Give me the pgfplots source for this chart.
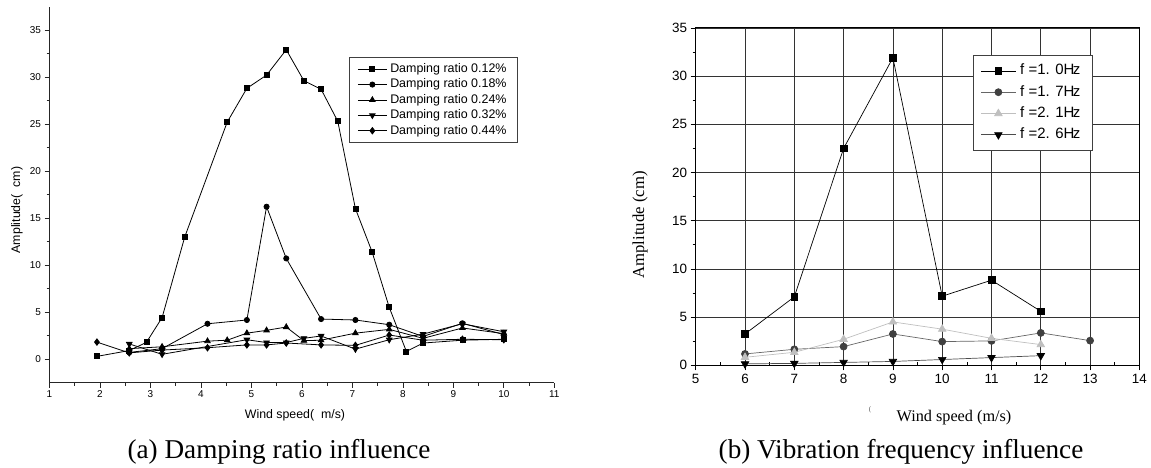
\documentclass[border=0pt]{standalone}
\usepackage{fontspec}
\setmainfont{Liberation Serif}
\newfontfamily\arial{Liberation Sans}
\usepackage{pgfplots}
\pgfplotsset{compat=1.18}
\begin{document}
\begin{tikzpicture}
\path[use as bounding box] (0bp,0bp) rectangle (1151bp,-468bp);
% ---------------- (a) ----------------
\begin{axis}[
  at={(49.5bp,-382.5bp)}, anchor=south west, scale only axis,
  width=504.8bp, height=376bp,
  xmin=1, xmax=11, ymin=-2.5, ymax=37.5,
  axis lines=left, axis line style={-, line width=0.8bp, black!85},
  xtick={1,...,11}, ytick={0,5,...,35},
  minor x tick num=1, minor y tick num=1,
  tick align=outside, major tick length=5bp, minor tick length=3bp,
  tick style={black!85, line width=0.7bp},
  /pgf/number format/assume math mode=true,
  tick label style={font=\arial\fontsize{10}{12}\selectfont},
  every axis plot/.append style={black, line width=0.8bp},
  legend style={at={(0.5933,0.8665)}, anchor=north west, draw=black!75, line width=0.9bp,
    font=\arial\fontsize{12.5}{15}\selectfont, row sep=0pt,
    inner xsep=8bp, inner ysep=4.3bp, cells={anchor=west},
    nodes={inner xsep=3bp, inner ysep=1.8bp, text height=9.2bp, text depth=2.6bp}},
  legend image code/.code={\draw[line width=0.8bp, mark repeat=2,mark phase=2] plot coordinates {(0bp,0bp)(14.5bp,0bp)(29bp,0bp)};},
]
\addplot[mark=square*, mark size=2.5bp] coordinates {
(1.94,0.28) (2.58,0.9) (2.92,1.77) (3.23,4.4) (3.68,13.0) (4.52,25.2) (4.91,28.8) (5.30,30.2) (5.69,32.9) (6.04,29.6) (6.38,28.7) (6.71,25.3) (7.06,16.0) (7.39,11.4) (7.73,5.5) (8.07,0.8) (8.40,1.7) (9.18,2.0) (10.0,2.1)};
\addlegendentry{Damping ratio 0.12\%}
\addplot[mark=*, mark size=2.6bp] coordinates {
(2.58,0.7) (3.23,1.1) (4.13,3.75) (4.91,4.15) (5.30,16.2) (5.69,10.7) (6.38,4.25) (7.06,4.15) (7.73,3.65) (8.40,2.4) (9.18,3.8) (10.0,2.6)};
\addlegendentry{Damping ratio 0.18\%}
\addplot[mark=triangle*, mark size=3.2bp] coordinates {
(2.58,1.1) (3.23,1.3) (4.13,1.9) (4.52,2.0) (4.91,2.75) (5.30,3.05) (5.69,3.4) (6.04,1.95) (6.38,2.0) (7.06,2.75) (7.73,3.15) (8.40,2.2) (9.18,3.3) (10.0,2.7)};
\addlegendentry{Damping ratio 0.24\%}
\addplot[mark=triangle*, mark size=3.2bp, mark options={rotate=180}] coordinates {
(2.58,1.6) (3.23,0.5) (4.91,2.05) (5.30,1.75) (5.69,1.75) (6.04,2.2) (6.38,2.45) (7.06,1.05) (7.73,2.05) (8.40,2.65) (9.18,3.75) (10.0,2.9)};
\addlegendentry{Damping ratio 0.32\%}
\addplot[mark=diamond*, mark size=3.2bp] coordinates {
(1.94,1.8) (2.58,0.65) (3.23,0.95) (4.13,1.2) (4.91,1.5) (5.30,1.5) (5.69,1.7) (6.38,1.5) (7.06,1.45) (7.73,2.55) (8.40,2.0) (9.18,2.1) (10.0,2.05)};
\addlegendentry{Damping ratio 0.44\%}
\end{axis}
% ---------------- (b) ----------------
\begin{axis}[
  at={(695.7bp,-365.3bp)}, anchor=south west, scale only axis,
  width=443.7bp, height=337.4bp,
  xmin=5, xmax=14, ymin=0, ymax=35,
  xtick={5,...,14}, ytick={0,5,...,35},
  minor y tick num=1,
  extra x ticks={5.5,6.5,...,13.5}, extra x tick labels={},
  extra x tick style={grid=none, tick align=inside, major tick length=3.5bp},
  tick pos=left, tick align=outside, major tick length=5bp, minor tick length=3bp,
  tick style={black, line width=0.7bp},
  grid=major, major grid style={black!80, line width=0.7bp},
  axis line style={line width=1bp},
  /pgf/number format/assume math mode=true,
  tick label style={font=\arial\fontsize{13.5}{15}\selectfont},
  every axis plot/.append style={line width=0.7bp},
  legend style={at={(0.6245,0.9188)}, anchor=north west, draw=black!75, line width=0.9bp,
    font=\arial\fontsize{15}{17}\selectfont, row sep=0pt,
    inner xsep=7.5bp, inner ysep=4.5bp, cells={anchor=west},
    nodes={inner xsep=4.2bp, inner ysep=3.55bp, text height=11bp, text depth=3.2bp}},
  legend image code/.code={\draw[line width=0.7bp, mark repeat=2,mark phase=2] plot coordinates {(0bp,0bp)(17.3bp,0bp)(34.6bp,0bp)};},
]
\addplot[black, mark=square*, mark size=3.4bp] coordinates {
(6,3.25) (7,7.1) (8,22.5) (9,31.9) (10,7.17) (11,8.83) (12,5.6)};
\addlegendentry{f =1. 0H\kern-1.5bp z}
\addplot[color=black!60, mark=*, mark size=3.5bp, mark options={fill=black!75, draw=black!75}] coordinates {
(6,1.18) (7,1.66) (8,1.94) (9,3.25) (10,2.46) (11,2.53) (12,3.36) (13,2.56)};
\addlegendentry{f =1. 7H\kern-1.5bp z}
\addplot[color=black!25, mark=triangle*, mark size=4.3bp, mark options={fill=black!25, draw=black!25}] coordinates {
(6,0.83) (7,1.35) (8,2.7) (9,4.5) (10,3.75) (11,2.8) (12,2.15)};
\addlegendentry{f =2. 1H\kern-1.5bp z}
\addplot[color=black!70, mark=triangle*, mark size=4.3bp, mark options={rotate=180, fill=black, draw=black}] coordinates {
(6,0.15) (7,0.2) (8,0.3) (9,0.4) (10,0.6) (11,0.8) (12,1.0)};
\addlegendentry{f =2. 6H\kern-1.5bp z}
\end{axis}
% ---------------- labels ----------------
\node[font=\arial\fontsize{12.4}{14}\selectfont] at (295bp,-415bp) {Wind speed(\ \ m/s)};
\node[font=\arial\fontsize{12.4}{14}\selectfont, rotate=90] at (17bp,-210bp) {Amplitude(\ \ cm)};
\node[font=\fontsize{16.8}{19}\selectfont, rotate=90] at (640bp,-225bp) {Amplitude (cm)};
\node[font=\fontsize{16.3}{18}\selectfont] at (954bp,-418bp) {Wind speed (m/s)};
\node[font=\fontsize{7}{8}\selectfont, text=black!70] at (870bp,-410bp) {(};
\node[font=\fontsize{27.3}{30}\selectfont] at (279bp,-452bp) {(a) Damping ratio influence};
\node[font=\fontsize{27.3}{30}\selectfont] at (901bp,-452bp) {(b) Vibration frequency influence};
\end{tikzpicture}
\end{document}
